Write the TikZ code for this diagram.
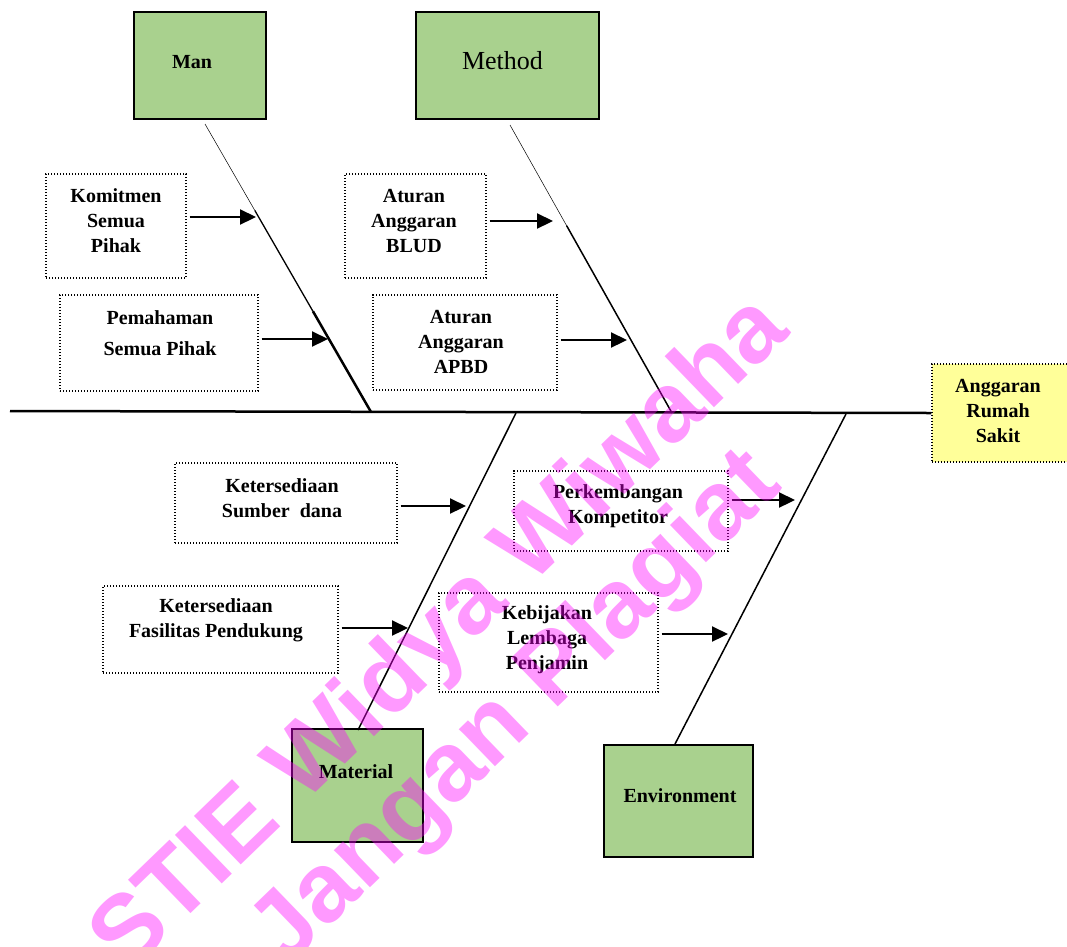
\documentclass[tikz,border=0pt]{standalone}
\usepackage{fontspec}
\setmainfont{Liberation Serif}
\newfontfamily\wmfont{Liberation Sans}
\usetikzlibrary{arrows.meta,calc}
\definecolor{boxgreen}{RGB}{169,209,142}
\definecolor{headyellow}{RGB}{255,255,153}
\definecolor{wmpink}{RGB}{255,0,255}

\begin{document}
\begin{tikzpicture}[x=1pt,y=-1pt,
  bigbox/.style={draw,line width=2pt,fill=boxgreen,inner sep=0pt},
  causebox/.style={draw,dash pattern=on 1.3pt off 1.7pt,line width=1.3pt,inner sep=0pt},
  boxtext/.style={align=center,inner sep=0pt,font=\fontsize{20}{25}\selectfont\bfseries},
  arrowline/.style={line width=2.2pt,-{Triangle[length=16pt,width=15pt]},shorten <=3pt},
  bone/.style={line width=1.5pt},
  watermark/.style={text=wmpink,text opacity=0.4,inner sep=0pt,rotate=44,
    font=\wmfont\bfseries\fontsize{98}{100}\selectfont}]
\useasboundingbox (0,0) rectangle (1067,946);

% head and spine
\node[causebox,fill=headyellow,minimum width=143pt,minimum height=98pt] (head) at (1003.5,413) {};
\node[boxtext] (head-t) at (998,411) {Anggaran\\Rumah\\Sakit};
\coordinate (tail) at (10,411);
\draw[line width=2.5pt] (tail) -- (head.west);

% categories
\node[bigbox,minimum width=132pt,minimum height=107pt] (man) at (200,65.5) {};
\node[boxtext] (man-t) at (192,62) {Man};
\node[bigbox,minimum width=183pt,minimum height=107pt] (method) at (507.5,65.5) {};
\node[inner sep=0pt,font=\fontsize{26}{30}\selectfont] (method-t) at (502.5,61) {Method};
\node[bigbox,minimum width=131pt,minimum height=113pt] (material) at (357.5,785.5) {};
\node[boxtext] (material-t) at (356,772) {Material};
\node[bigbox,minimum width=149pt,minimum height=112pt] (env) at (678.5,801) {};
\node[boxtext] (env-t) at (680,796) {Environment};

% bones
\coordinate (manTop) at (205,124);
\coordinate (manFoot) at (371,412);
\coordinate (methodTop) at (510,125);
\coordinate (methodFoot) at (672,413);
\coordinate (matFoot) at (516,413);
\coordinate (matTop) at (358,730);
\coordinate (envFoot) at (846,414);
\coordinate (envTop) at (675,744);
\draw[line width=0.5pt] (manTop) -- ($(manTop)!.3!(manFoot)$);
\draw[line width=1.3pt] ($(manTop)!.3!(manFoot)$) -- ($(manTop)!.65!(manFoot)$);
\draw[line width=2.5pt] ($(manTop)!.65!(manFoot)$) -- (manFoot);
\draw[line width=0.5pt] (methodTop) -- ($(methodTop)!.35!(methodFoot)$);
\draw[line width=1.5pt] ($(methodTop)!.35!(methodFoot)$) -- (methodFoot);
\draw[bone] (matFoot) -- (matTop);
\draw[bone] (envFoot) -- (envTop);

% causes
\node[causebox,minimum width=140pt,minimum height=104pt] (komit) at (116,226) {};
\node[boxtext] (komit-t) at (116,221) {Komitmen\\Semua\\Pihak};
\node[causebox,minimum width=198pt,minimum height=96pt] (paham) at (159,343) {};
\node[boxtext] (paham-t) at (160,333) {Pemahaman\\[6pt]Semua Pihak};
\node[causebox,minimum width=141pt,minimum height=104pt] (blud) at (415.5,226) {};
\node[boxtext] (blud-t) at (414,221) {Aturan\\Anggaran\\BLUD};
\node[causebox,minimum width=184pt,minimum height=95pt] (apbd) at (465,342.5) {};
\node[boxtext] (apbd-t) at (461,342) {Aturan\\Anggaran\\APBD};
\node[causebox,minimum width=222pt,minimum height=80pt] (sumber) at (286,503) {};
\node[boxtext] (sumber-t) at (282,498) {Ketersediaan\\Sumber\ \ dana};
\node[causebox,minimum width=235pt,minimum height=87pt] (fasil) at (220.5,629.5) {};
\node[boxtext] (fasil-t) at (216,620) {Ketersediaan\\Fasilitas Pendukung};
\node[causebox,minimum width=214pt,minimum height=80pt] (kompet) at (621,511) {};
\node[boxtext] (kompet-t) at (618,506) {Perkembangan\\Kompetitor};
\node[causebox,minimum width=219pt,minimum height=99pt] (kebijak) at (548.5,642.5) {};
\node[boxtext] (kebijak-t) at (547,640) {Kebijakan\\Lembaga\\Penjamin};

% arrows to the bones
\coordinate (komitTip) at (256,217);
\coordinate (pahamTip) at (328,339);
\coordinate (bludTip) at (553,221);
\coordinate (apbdTip) at (627,340);
\coordinate (sumberTip) at (466,506);
\coordinate (fasilTip) at (408,628);
\coordinate (kompetTip) at (795,500);
\coordinate (kebijakTip) at (728,634);
\draw[arrowline] (komit.east |- komitTip) -- (komitTip);
\draw[arrowline] (paham.east |- pahamTip) -- (pahamTip);
\draw[arrowline] (blud.east |- bludTip) -- (bludTip);
\draw[arrowline] (apbd.east |- apbdTip) -- (apbdTip);
\draw[arrowline] (sumber.east |- sumberTip) -- (sumberTip);
\draw[arrowline] (fasil.east |- fasilTip) -- (fasilTip);
\draw[arrowline] (kompet.east |- kompetTip) -- (kompetTip);
\draw[arrowline] (kebijak.east |- kebijakTip) -- (kebijakTip);

% watermark
\node[watermark] (wm1) at (442,636) {STIE Widya Wiwaha};
\node[watermark] (wm2) at (518,710) {Jangan Plagiat};
\end{tikzpicture}
\end{document}
